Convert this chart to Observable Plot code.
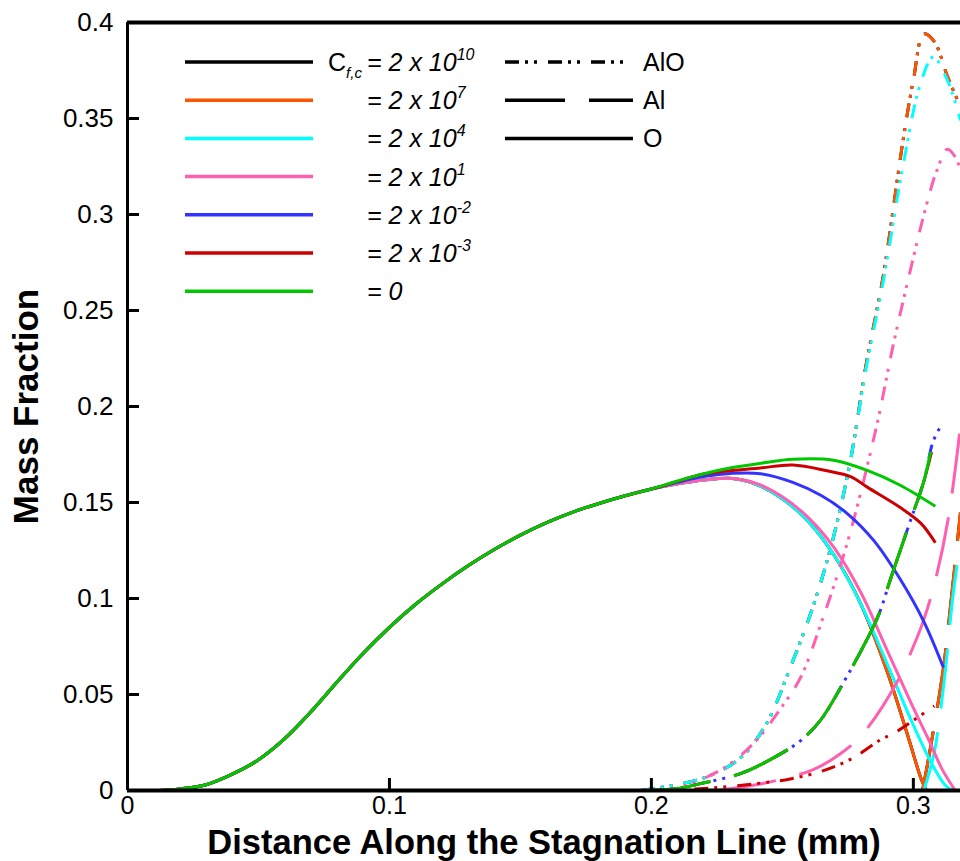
<!DOCTYPE html>
<html>
<head>
<meta charset="utf-8">
<script src="https://cdn.jsdelivr.net/npm/d3@7"></script>
<script src="https://cdn.jsdelivr.net/npm/@observablehq/plot@0.6"></script>
<style>
  html, body { margin: 0; padding: 0; background: #fff; }
  #chart svg { display: block; }
</style>
</head>
<body>
<div id="chart"></div>
<script>
// ---------- categories ----------
const cCases   = ["2e10", "2e7", "2e4", "2e1", "2e-2", "2e-3", "0"];
const cColors  = ["#000000", "#ff5500", "#00ffff", "#ff5fb0", "#3333ff", "#cc0000", "#00c800"];
const cExps    = ["10", "7", "4", "1", "-2", "-3", null];
const species  = ["AlO", "Al", "O"];
const speciesDash = ["14,6,3,6,3,11", "60,24", null];

// ---------- ticks ----------
const xTicks = [0, 0.1, 0.2, 0.3];
const yTicks = [0, 0.05, 0.1, 0.15, 0.2, 0.25, 0.3, 0.35, 0.4];

// ---------- O (solid) : common rising part ----------
const O_rise = [[0.012,0],[0.02,0.0008],[0.03,0.003],[0.04,0.0085],[0.05,0.016],[0.06,0.027],[0.07,0.041],
  [0.08,0.0565],[0.09,0.0715],[0.1,0.085],[0.11,0.097],[0.12,0.1075],[0.13,0.117],[0.14,0.1255],[0.15,0.133],
  [0.16,0.1395],[0.17,0.145],[0.18,0.1495],[0.19,0.1535],[0.2,0.157]];
// O tails (per case)
const O_tail_2e10 = [[0.21,0.1597],[0.22,0.1617],[0.231,0.1625],[0.24,0.1595],[0.25,0.152],[0.26,0.14],[0.27,0.122],
  [0.28,0.097],[0.29,0.062],[0.298,0.028],[0.303,0.006],[0.305,0]];
const O_tail_2e7  = [[0.21,0.1597],[0.22,0.1617],[0.231,0.1625],[0.24,0.1595],[0.25,0.152],[0.26,0.14],[0.27,0.122],
  [0.28,0.097],[0.29,0.062],[0.298,0.028],[0.303,0.006],[0.305,0]];
const O_tail_2e4  = [[0.21,0.1597],[0.22,0.1617],[0.231,0.1625],[0.24,0.1595],[0.25,0.152],[0.26,0.14],[0.27,0.122],
  [0.28,0.097],[0.29,0.066],[0.3,0.034],[0.307,0.014],[0.312,0.003],[0.315,0]];
const O_tail_2e1  = [[0.21,0.1597],[0.22,0.1617],[0.231,0.1625],[0.24,0.16],[0.25,0.153],[0.26,0.142],[0.27,0.126],
  [0.28,0.103],[0.29,0.073],[0.3,0.043],[0.306,0.026],[0.311,0.011],[0.316,0]];
const O_tail_2em2 = [[0.21,0.1605],[0.22,0.1635],[0.231,0.1652],[0.2416,0.165],[0.254,0.1605],[0.265,0.1535],
  [0.275,0.144],[0.285,0.13],[0.295,0.11],[0.304,0.088],[0.3115,0.064]];
const O_tail_2em3 = [[0.21,0.161],[0.22,0.1648],[0.2416,0.168],[0.254,0.1695],[0.267,0.1665],[0.276,0.1635],
  [0.2824,0.158],[0.295,0.1474],[0.303,0.139],[0.3084,0.129]];
const O_tail_0    = [[0.21,0.1612],[0.22,0.165],[0.23,0.168],[0.242,0.1705],[0.254,0.1725],[0.2695,0.172],
  [0.2824,0.1667],[0.295,0.159],[0.3084,0.148]];

// ---------- AlO (dash-dot-dot) ----------
const AlO_2e10 = [[0.196,0],[0.208,0.0026],[0.221,0.007],[0.234,0.017],[0.244,0.035],[0.253,0.064],[0.262,0.097],
  [0.2695,0.132],[0.276,0.172],[0.282,0.222],[0.2885,0.268],[0.296,0.338],[0.3,0.37],[0.304,0.394],[0.308,0.39],
  [0.313,0.372],[0.318,0.356]];
const AlO_2e7  = [[0.196,0],[0.208,0.0026],[0.221,0.007],[0.234,0.017],[0.244,0.035],[0.253,0.064],[0.262,0.097],
  [0.2695,0.132],[0.276,0.172],[0.282,0.222],[0.2885,0.268],[0.296,0.338],[0.3,0.37],[0.304,0.394],[0.308,0.39],
  [0.313,0.372],[0.318,0.356]];
const AlO_2e4  = [[0.196,0],[0.208,0.0026],[0.221,0.007],[0.234,0.017],[0.244,0.035],[0.253,0.064],[0.262,0.097],
  [0.2695,0.132],[0.276,0.172],[0.282,0.22],[0.2885,0.265],[0.296,0.325],[0.3027,0.368],[0.3076,0.382],
  [0.313,0.37],[0.318,0.349]];
const AlO_2e1  = [[0.205,0],[0.212,0.002],[0.228,0.012],[0.24,0.026],[0.249,0.042],[0.257,0.059],[0.265,0.088],
  [0.275,0.13],[0.286,0.19],[0.292,0.23],[0.298,0.266],[0.305,0.305],[0.309,0.323],[0.313,0.334],[0.316,0.33],[0.318,0.323]];
const AlO_2em2 = [[0.2,0],[0.21,0.001],[0.2187,0.0036],[0.234,0.0088],[0.2466,0.017],[0.257,0.026],[0.2645,0.0365],
  [0.272,0.053],[0.2863,0.09],[0.291,0.109],[0.295,0.125],[0.2989,0.1406],[0.304,0.161],[0.3076,0.182],[0.311,0.191]];
const AlO_2em3 = [[0.2,0],[0.22,0.001],[0.24,0.0036],[0.253,0.006],[0.266,0.0105],[0.277,0.017],[0.287,0.026],
  [0.294,0.031],[0.3,0.0365],[0.308,0.044]];

// ---------- Al (long dash) ----------
const Al_2e10 = [[0.3035,0],[0.3065,0.022],[0.3115,0.064],[0.3145,0.1],[0.318,0.145]];
const Al_2e7  = [[0.3035,0],[0.3065,0.022],[0.3115,0.064],[0.3145,0.1],[0.318,0.145]];
const Al_2e4  = [[0.304,0],[0.308,0.02],[0.312,0.06],[0.315,0.1],[0.318,0.13]];
const Al_2e1  = [[0.225,0],[0.24,0.003],[0.25,0.006],[0.262,0.011],[0.272,0.019],[0.281,0.03],[0.294,0.057],
  [0.3,0.075],[0.304,0.089],[0.3085,0.11],[0.3135,0.143],[0.318,0.19]];
const Al_2em3 = [[0.2,0],[0.21,0.001],[0.2187,0.0036],[0.234,0.0088],[0.2466,0.017],[0.257,0.026],[0.2645,0.0365],
  [0.272,0.053],[0.2863,0.09],[0.291,0.109],[0.295,0.125],[0.2989,0.1406],[0.304,0.161],[0.3085,0.185]];
const Al_0    = [[0.2,0],[0.21,0.001],[0.2187,0.0036],[0.234,0.0088],[0.2466,0.017],[0.257,0.026],[0.2645,0.0365],
  [0.272,0.053],[0.2863,0.09],[0.291,0.109],[0.295,0.125],[0.2989,0.1406],[0.304,0.161],[0.308,0.186]];

// ---------- curve table built from the arrays ----------
const curves = [
  {c: 0, s: 0, pts: AlO_2e10}, {c: 0, s: 1, pts: Al_2e10}, {c: 0, s: 2, pts: O_rise.concat(O_tail_2e10)},
  {c: 1, s: 0, pts: AlO_2e7},  {c: 1, s: 1, pts: Al_2e7},  {c: 1, s: 2, pts: O_rise.concat(O_tail_2e7)},
  {c: 2, s: 0, pts: AlO_2e4},  {c: 2, s: 1, pts: Al_2e4},  {c: 2, s: 2, pts: O_rise.concat(O_tail_2e4)},
  {c: 3, s: 0, pts: AlO_2e1},  {c: 3, s: 1, pts: Al_2e1},  {c: 3, s: 2, pts: O_rise.concat(O_tail_2e1)},
  {c: 4, s: 0, pts: AlO_2em2},                             {c: 4, s: 2, pts: O_rise.concat(O_tail_2em2)},
  {c: 5, s: 0, pts: AlO_2em3}, {c: 5, s: 1, pts: Al_2em3}, {c: 5, s: 2, pts: O_rise.concat(O_tail_2em3)},
                               {c: 6, s: 1, pts: Al_0},    {c: 6, s: 2, pts: O_rise.concat(O_tail_0)}
];

const FONT = "'Liberation Sans', Arial, Helvetica, sans-serif";

const lineMarks = curves.map(cv => Plot.line(cv.pts, {
  x: d => d[0], y: d => d[1],
  stroke: cColors[cv.c],
  strokeWidth: 3,
  strokeDasharray: speciesDash[cv.s] || undefined,
  strokeLinecap: "butt",
  curve: "catmull-rom",
  clip: true
}));

const chart = Plot.plot({
  width: 960, height: 861,
  marginLeft: 127, marginRight: 0, marginTop: 22, marginBottom: 71,
  x: {domain: [0, 0.318]},
  y: {domain: [0, 0.4]},
  style: {fontFamily: FONT, background: "#fff", color: "#000"},
  marks: [
    ...lineMarks,
    Plot.ruleX([0], {strokeWidth: 3}),
    Plot.ruleY([0], {strokeWidth: 4}),
    Plot.ruleY([0.4], {strokeWidth: 4}),
    Plot.tickY(yTicks, {y: d => d, insetRight: 833 - 12, strokeWidth: 3}),
    Plot.tickX(xTicks, {x: d => d, insetTop: 768 - 12, strokeWidth: 3}),
    Plot.axisX({ticks: xTicks, tickSize: 0, tickPadding: 6, fontSize: 25, label: null, tickFormat: d => String(d)}),
    Plot.axisY({ticks: yTicks, tickSize: 0, tickPadding: 14, fontSize: 26, label: null, tickFormat: d => String(d)}),
    Plot.text(["Distance Along the Stagnation Line (mm)"], {
      frameAnchor: "bottom", dy: 52, fontSize: 34.5, fontWeight: "bold", lineAnchor: "middle", textAnchor: "middle", text: d => d
    }),
    Plot.text(["Mass Fraction"], {
      frameAnchor: "left", dx: -101, rotate: -90, fontSize: 35, fontWeight: "bold", lineAnchor: "middle", textAnchor: "middle", text: d => d
    })
  ]
});

document.getElementById("chart").appendChild(chart);

// ---------- in-plot legend ----------
const svg = d3.select(chart);
const lg = svg.append("g").attr("font-family", FONT).attr("fill", "#000").attr("text-anchor", "start");
const rowY0 = 62, rowStep = 38.2;
cCases.forEach((c, i) => {
  const y = rowY0 + i * rowStep;
  lg.append("line").attr("x1", 185).attr("x2", 313).attr("y1", y).attr("y2", y)
    .attr("stroke", cColors[i]).attr("stroke-width", 3.5);
  if (i === 0) {
    const t0 = lg.append("text").attr("x", 328).attr("y", y + 9).attr("font-size", 25);
    t0.append("tspan").text("C");
    t0.append("tspan").attr("font-size", 15).attr("font-style", "italic").attr("dy", 7).text("f,c");
  }
  const t = lg.append("text").attr("x", 367).attr("y", y + 9).attr("font-size", 25).attr("font-style", "italic");
  if (cExps[i] === null) {
    t.append("tspan").text("= 0");
  } else {
    t.append("tspan").text("= 2 x 10");
    t.append("tspan").attr("font-size", 16).attr("dy", -11).text(cExps[i]);
  }
});
species.forEach((s, i) => {
  const y = rowY0 + i * rowStep;
  const ln = lg.append("line").attr("x1", 505).attr("x2", 633).attr("y1", y).attr("y2", y)
    .attr("stroke", "#000").attr("stroke-width", 3.5);
  if (speciesDash[i]) ln.attr("stroke-dasharray", speciesDash[i]);
  lg.append("text").attr("x", 643).attr("y", y + 9).attr("font-size", 25).text(s);
});
</script>
</body>
</html>
